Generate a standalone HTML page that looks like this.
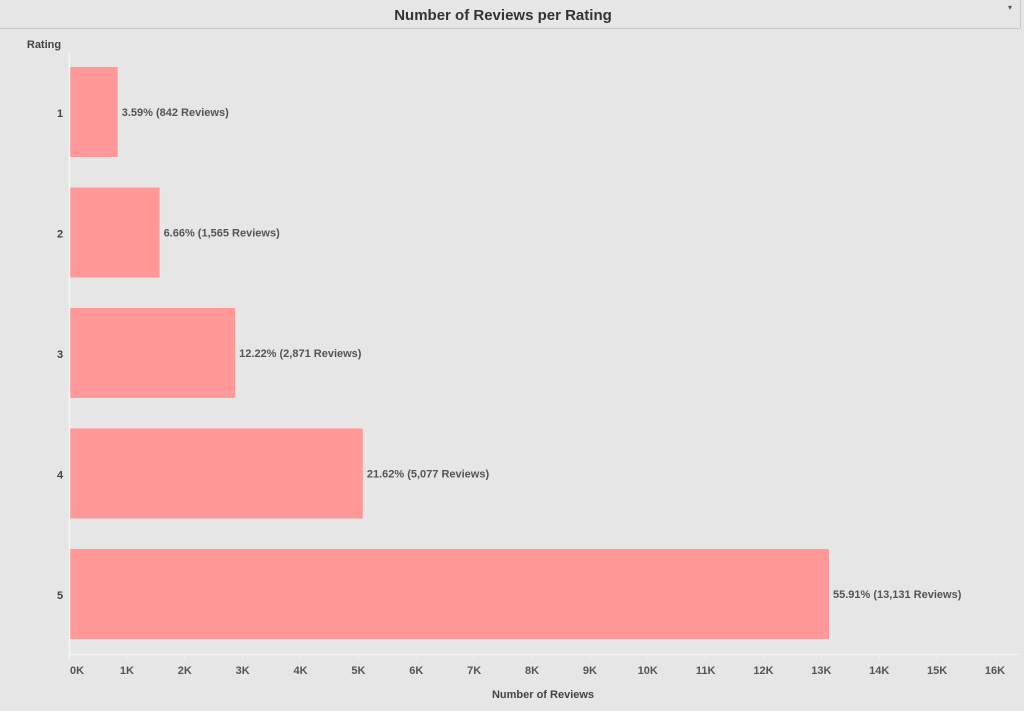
<!DOCTYPE html>
<html><head><meta charset="utf-8"><style>
body{margin:0;width:1024px;height:706px;background:#e6e6e6;font-family:"Liberation Sans",sans-serif;overflow:hidden}
</style></head><body>
<svg id="c" width="1024" height="706" xmlns="http://www.w3.org/2000/svg">
<rect x="0" y="0" width="1024" height="706" fill="#e6e6e6"/>
<line x1="0" y1="28.5" x2="1020" y2="28.5" stroke="#c8c8c8"/>
<line x1="1020.5" y1="0" x2="1020.5" y2="28" stroke="#c8c8c8"/>
<text x="503" y="20" text-anchor="middle" font-size="15" font-weight="bold" fill="#333">Number of Reviews per Rating</text>
<text x="1010" y="10" text-anchor="middle" font-size="8" fill="#555">▾</text>
<text x="44" y="48" text-anchor="middle" font-size="11" font-weight="bold" fill="#444">Rating</text>
<text x="543" y="698" text-anchor="middle" font-size="11" font-weight="bold" fill="#444">Number of Reviews</text>
<g id="bars"></g><g id="axis"></g>
</svg>
<script>
const categories=["1","2","3","4","5"];
const values=[842,1565,2871,5077,13131];
const pctLabels=["3.59%","6.66%","12.22%","21.62%","55.91%"];
const countLabels=["842","1,565","2,871","5,077","13,131"];
const ticks=[0,1000,2000,3000,4000,5000,6000,7000,8000,9000,10000,11000,12000,13000,14000,15000,16000];
const tickLabels=["0K","1K","2K","3K","4K","5K","6K","7K","8K","9K","10K","11K","12K","13K","14K","15K","16K"];
const NS="http://www.w3.org/2000/svg";
const x=v=>69+v*(926/16000);
const bandTop=i=>67+i*120.5;
const bandH=90;
const bars=document.getElementById('bars'),axis=document.getElementById('axis');
function mk(tag,attrs,parent){const e=document.createElementNS(NS,tag);for(const k in attrs)e.setAttribute(k,attrs[k]);parent.appendChild(e);return e;}
mk('line',{x1:69.5,y1:52,x2:69.5,y2:660,stroke:'#f5f5f5','stroke-width':1.5},axis);
mk('line',{x1:69,y1:654.5,x2:1020,y2:654.5,stroke:'#f2f2f2','stroke-width':1.5},axis);
categories.forEach((c,i)=>{
 const y=bandTop(i);
 const r=mk('rect',{x:x(0),y:y,width:x(values[i])-x(0),height:bandH,fill:'#ff9896'},bars);
 
 
 const t=mk('text',{x:x(values[i])+4,y:y+bandH/2+4,'font-size':11,'font-weight':'bold',fill:'#555'},bars);
 t.textContent=pctLabels[i]+' ('+countLabels[i]+' Reviews)';
 
 
 const l=mk('text',{x:60,y:y+bandH/2+5,'text-anchor':'middle','font-size':11,'font-weight':'bold',fill:'#444'},axis);
 l.textContent=c;
 
 
});
ticks.forEach((v,i)=>{
 const tx=x(v);
 const tk=mk('line',{x1:tx,y1:654,x2:tx,y2:659,stroke:'#f2f2f2'},axis);
 
 
 const t=mk('text',{x:i===0?tx+8:tx,y:674,'text-anchor':'middle','font-size':11,'font-weight':'bold',fill:'#555'},axis);
 t.textContent=tickLabels[i];
 
 
});
</script>
</body></html>
